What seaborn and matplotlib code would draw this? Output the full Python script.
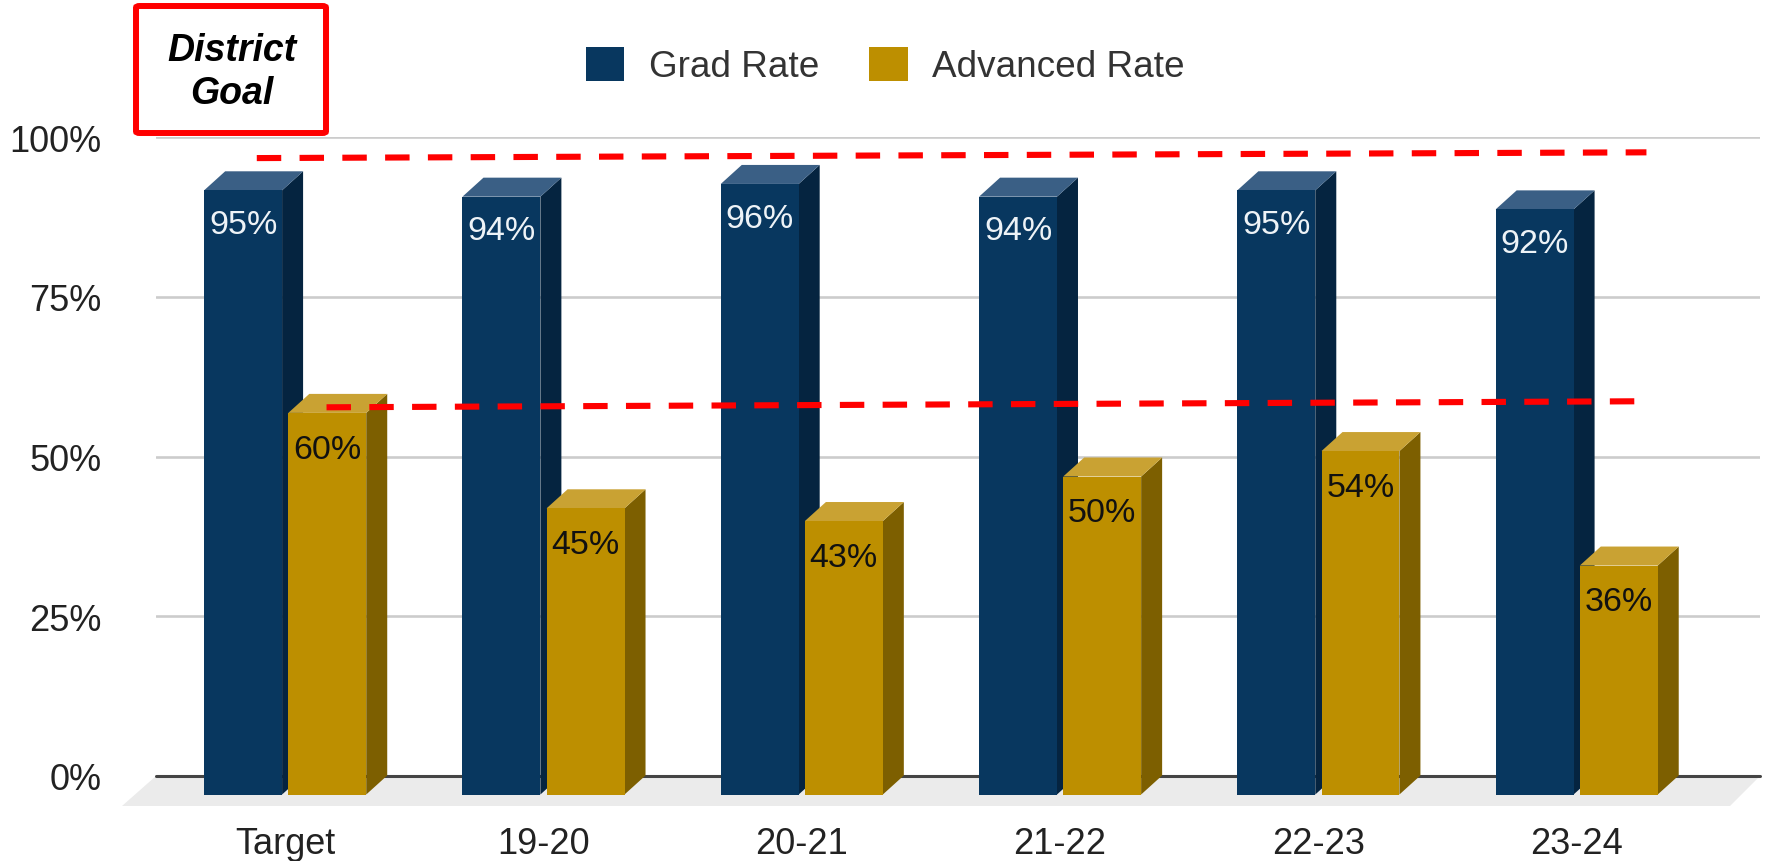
import seaborn as sns
import matplotlib.pyplot as plt
import pandas as pd
from matplotlib.patches import FancyBboxPatch, Polygon

# Data
years = ['Target', '19-20', '20-21', '21-22', '22-23', '23-24']
grad_rate = [95, 94, 96, 94, 95, 92]
advanced_rate = [60, 45, 43, 50, 54, 36]
grad_goal = [96.7, 97.6]
advanced_goal = [57.7, 58.65]

W, H = 1771, 862
BLUE, BLUE_SIDE, BLUE_TOP = '#08375f', '#052440', '#3a5f85'
GOLD, GOLD_SIDE, GOLD_TOP = '#bd8f00', '#7d5f00', '#c9a233'

df = pd.DataFrame({
    'year': years * 2,
    'rate': grad_rate + advanced_rate,
    'series': ['Grad Rate'] * 6 + ['Advanced Rate'] * 6,
})

sns.set_theme(style='white')
plt.rcParams['font.family'] = ['Liberation Sans', 'DejaVu Sans']
fig = plt.figure(figsize=(W / 100, H / 100), dpi=100)

# pixel layout of the fake 3d chart
left, right = 156, 1760
y100, y0, y_front = 138, 777, 795.5
cat_px = 258.3
xlim = ((left - 285.2) / cat_px, (right - 285.2) / cat_px)
pct_px = 6.36
dx, dy = 21 / cat_px, 19 / pct_px

# back plane: gridlines and floor
ax = fig.add_axes([left / W, 1 - y0 / H, (right - left) / W, (y0 - y100) / H])
ax.set_xlim(xlim)
ax.set_ylim(0, 100)
ax.set_yticks([0, 25, 50, 75, 100], ['0%', '25%', '50%', '75%', '100%'], fontsize=26, color='#222222')
ax.set_xticks([])
ax.tick_params(axis='y', length=0, pad=39)
sns.despine(ax=ax, left=True, right=True, top=True, bottom=True)
for v in [25, 50, 75, 100]:
    ax.axhline(v, color='#cccccc', lw=1.9, zorder=1)
ax.axhline(0, color='#444444', lw=2.2, zorder=1.5, clip_on=False)
floor_scale = 6.39
ax.add_patch(Polygon([(xlim[0], 0), (xlim[1], 0), (xlim[1] - 30 / cat_px, -30 / floor_scale),
                      (xlim[0] - 34 / cat_px, -30 / floor_scale)],
                     closed=True, color='#ebebeb', lw=0, zorder=1, clip_on=False))

# front plane: the bars
ax2 = fig.add_axes([left / W, 1 - y_front / H, (right - left) / W, (y_front - y100) / H], zorder=3)
ax2.patch.set_visible(False)
sns.barplot(data=df, x='year', y='rate', hue='series', order=years, ax=ax2,
            palette={'Grad Rate': BLUE, 'Advanced Rate': GOLD},
            width=0.6515, gap=0.074, saturation=1, linewidth=0)
ax2.set_xlim(xlim)
ax2.set_ylim(0, (y_front - y100) / pct_px)
ax2.set_xlabel('')
ax2.set_ylabel('')
ax2.set_yticks([])
ax2.tick_params(axis='x', length=0, pad=23, labelsize=26, labelcolor='#222222')
sns.despine(ax=ax2, left=True, right=True, top=True, bottom=True)

styles = [(BLUE_SIDE, BLUE_TOP, 2, '#eef3f7', -24.7), (GOLD_SIDE, GOLD_TOP, 4, '#111111', -26)]
for container, vals, (side, top, z, txt, off) in zip(ax2.containers, [grad_rate, advanced_rate], styles):
    for bar, val in zip(container, vals):
        x0, x1, h = bar.get_x(), bar.get_x() + bar.get_width(), bar.get_height()
        bar.set_zorder(z + 1)
        ax2.add_patch(Polygon([(x1, 0), (x1 + dx, dy), (x1 + dx, h + dy), (x1, h)],
                              closed=True, color=side, lw=0, zorder=z))
        ax2.add_patch(Polygon([(x0, h), (x0 + dx, h + dy), (x1 + dx, h + dy), (x1, h)],
                              closed=True, color=top, lw=0, zorder=z))
        ax2.annotate(f'{val}%', ((x0 + x1) / 2, h), xytext=(0, off), textcoords='offset points',
                     ha='center', va='center', fontsize=24.5, color=txt, zorder=7)

# goal lines (hand drawn in the original, a little sloped)
ax3 = fig.add_axes(ax.get_position(), zorder=4)
ax3.axis('off')
ax3.set_xlim(xlim)
ax3.set_ylim(0, 100)
ax3.plot([-0.11, 5.27], grad_goal, color='#ff0000', lw=4.4, dashes=(4, 3), dash_capstyle='butt')
ax3.plot([0.16, 5.285], advanced_goal, color='#ff0000', lw=4.4, dashes=(4, 3), dash_capstyle='butt')

# legend
handles, labels = ax2.get_legend_handles_labels()
ax2.legend(handles, labels, loc='center', bbox_to_anchor=(885.5 / W, 1 - 66.5 / H),
           bbox_transform=fig.transFigure, ncol=2, frameon=False, fontsize=26.6,
           handlelength=1.04, handleheight=1.04, handletextpad=0.66, columnspacing=1.36,
           labelcolor='#333333')

# district goal box
fig.add_artist(FancyBboxPatch((136 / W, 1 - 134 / H), 190 / W, 127 / H, transform=fig.transFigure,
                              boxstyle='round,pad=0,rounding_size=0.002', facecolor='white',
                              edgecolor='#ff0000', lw=4.3, zorder=5))
fig.text(231.5 / W, 1 - 72.5 / H, 'District\nGoal', ha='center', va='center', fontsize=27,
         fontweight='bold', fontstyle='italic', color='black', linespacing=1.28, zorder=6)

fig.savefig('out.png', dpi=100)
